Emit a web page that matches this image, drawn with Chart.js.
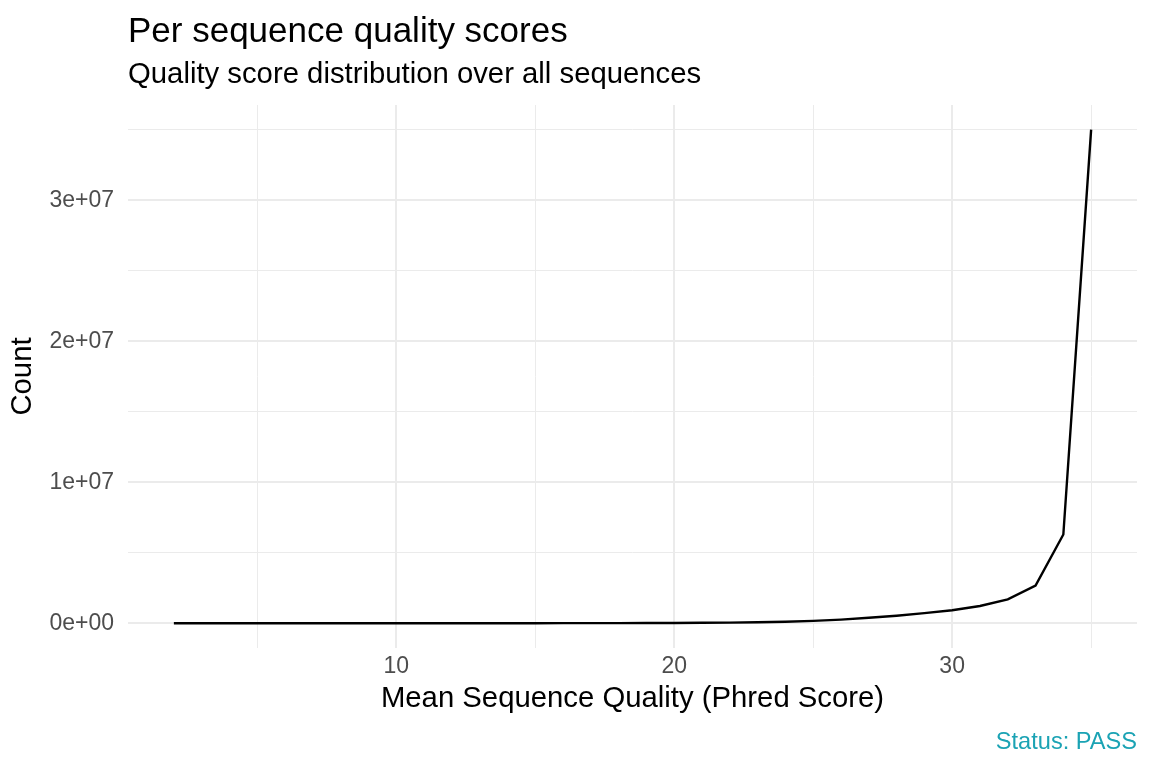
<!DOCTYPE html>
<html>
<head>
<meta charset="utf-8">
<script src="https://cdn.jsdelivr.net/npm/chart.js@4.4.1/dist/chart.umd.min.js"></script>
<style>
  html, body { margin: 0; padding: 0; background: #fff; }
  #wrap { position: relative; width: 1152px; height: 768px; font-family: "Liberation Sans", Arial, sans-serif; }
  #chart { position: absolute; left: 0; top: 0; }
  .txt { position: absolute; line-height: 1; white-space: nowrap; }
  #title { left: 128px; top: 12px; font-size: 35px; color: #000; }
  #subtitle { left: 128px; top: 58px; font-size: 29.3px; color: #000; }
  #caption { right: 15px; top: 730px; font-size: 23.6px; color: #1ba3b4; }
</style>
</head>
<body>
<div id="wrap">
  <canvas id="chart" width="1152" height="768"></canvas>
  <div class="txt" id="title">Per sequence quality scores</div>
  <div class="txt" id="subtitle">Quality score distribution over all sequences</div>
  <div class="txt" id="caption">Status: PASS</div>
</div>
<script>
// mean phred score per read and number of reads with that score
var quality = [2, 3, 4, 5, 6, 7, 8, 9, 10, 11, 12, 13, 14, 15, 16, 17, 18,
  19, 20, 21, 22, 23, 24, 25, 26, 27, 28, 29, 30, 31, 32, 33, 34, 35];
var counts = [1200, 800, 900, 1100, 1500, 1900, 2400, 3000, 3600, 4300, 5100,
  6000, 7200, 8600, 10500, 13000, 16500, 21000, 27000, 36000, 50000, 72000,
  110000, 170000, 260000, 390000, 540000, 720000, 930000, 1230000, 1700000,
  2680000, 6300000, 35000000];

var xTicks = [5, 10, 15, 20, 25, 30, 35];
var xTickLabels = ['', '10', '', '20', '', '30', ''];
var yTicks = [0, 5e6, 1e7, 1.5e7, 2e7, 2.5e7, 3e7, 3.5e7];
var yTickLabels = ['0e+00', '', '1e+07', '', '2e+07', '', '3e+07', ''];

var points = quality.map(function(q, i) { return {x: q, y: counts[i]}; });

var gridMajor = '#ebebeb';

function gridWidth(labels) {
  return function(c) {
    if (!c.tick) return 1;
    return labels[c.index] ? 2 : 1;
  };
}

var config = {
  type: 'line',
  data: {
    datasets: [{
      data: points,
      borderColor: '#000',
      borderWidth: 2.4,
      pointRadius: 0,
      tension: 0,
      fill: false
    }]
  },
  options: {
    responsive: false,
    animation: false,
    layout: { padding: { top: 105, right: 15, bottom: 0, left: 0 } },
    plugins: { legend: { display: false }, tooltip: { enabled: false } },
    scales: {
      x: {
        type: 'linear',
        min: 0.35,
        max: 36.65,
        afterBuildTicks: function(s) { s.ticks = xTicks.map(function(v) { return {value: v}; }); },
        afterFit: function(s) { s.height = 120; },
        border: { display: false },
        grid: { color: gridMajor, lineWidth: gridWidth(xTickLabels), drawTicks: false },
        ticks: {
          autoSkip: false,
          maxRotation: 0,
          padding: 5,
          color: '#4d4d4d',
          font: { family: 'Liberation Sans', size: 23 },
          callback: function(v, i) { return xTickLabels[i]; }
        },
        title: {
          display: true,
          text: 'Mean Sequence Quality (Phred Score)',
          color: '#000',
          font: { family: 'Liberation Sans', size: 29.3 },
          padding: { top: 0, bottom: 52 }
        }
      },
      y: {
        min: -1750000,
        max: 36750000,
        afterBuildTicks: function(s) { s.ticks = yTicks.map(function(v) { return {value: v}; }); },
        afterFit: function(s) { s.width = 128; },
        border: { display: false },
        grid: { color: gridMajor, lineWidth: gridWidth(yTickLabels), drawTicks: false },
        ticks: {
          autoSkip: false,
          padding: 14,
          color: '#4d4d4d',
          font: { family: 'Liberation Sans', size: 23 },
          callback: function(v, i) { return yTickLabels[i]; }
        },
        title: {
          display: true,
          text: 'Count',
          color: '#000',
          font: { family: 'Liberation Sans', size: 29.3 },
          padding: { top: 5, bottom: 0 }
        }
      }
    }
  }
};

var ctx = document.getElementById('chart').getContext('2d');
window.qualChart = new Chart(ctx, config);
</script>
</body>
</html>
